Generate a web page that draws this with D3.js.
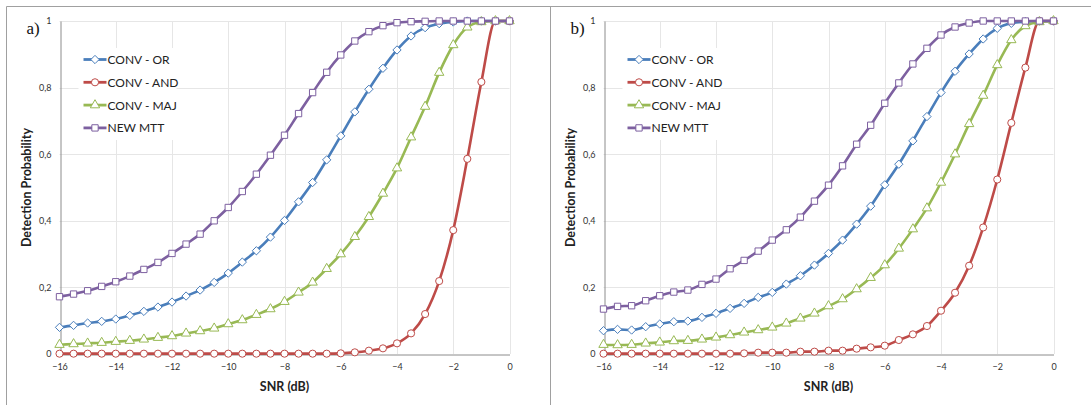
<!DOCTYPE html>
<html>
<head>
<meta charset="utf-8">
<script src="https://cdn.jsdelivr.net/npm/d3@7"></script>
<style>
  html, body { margin: 0; padding: 0; background: #fff; }
  svg { display: block; }
</style>
</head>
<body>
<svg id="chart" width="1091" height="405"></svg>
<script>
// ---------- data ----------
const snr = [-16,-15.5,-15,-14.5,-14,-13.5,-13,-12.5,-12,-11.5,-11,-10.5,-10,-9.5,-9,-8.5,-8,-7.5,-7,-6.5,-6,-5.5,-5,-4.5,-4,-3.5,-3,-2.5,-2,-1.5,-1,-0.5,0];
const xTicks = [-16,-14,-12,-10,-8,-6,-4,-2,0];
const yTicks = [0,0.2,0.4,0.6,0.8,1];
const yTickLabels = ["0","0,2","0,4","0,6","0,8","1"];
const seriesNames = ["CONV - OR","CONV - AND","CONV - MAJ","NEW MTT"];
const panelLabels = ["a)","b)"];

// panel a
const orA  = [0.080,0.086,0.093,0.098,0.105,0.116,0.128,0.141,0.156,0.174,0.192,0.215,0.243,0.276,0.310,0.351,0.401,0.457,0.515,0.583,0.655,0.727,0.795,0.858,0.913,0.955,0.980,0.992,0.997,1.0,1.0,1.0,1.0];
const andA = [0.001,0.001,0.001,0.001,0.001,0.001,0.001,0.001,0.001,0.001,0.001,0.001,0.001,0.001,0.001,0.001,0.001,0.001,0.001,0.001,0.002,0.005,0.010,0.017,0.032,0.062,0.120,0.219,0.372,0.586,0.817,1.0,1.0];
const majA = [0.028,0.030,0.032,0.034,0.037,0.040,0.044,0.049,0.054,0.062,0.069,0.077,0.090,0.102,0.118,0.135,0.157,0.185,0.215,0.256,0.300,0.352,0.412,0.482,0.558,0.651,0.743,0.845,0.928,0.981,0.997,1.0,1.0];
const mttA = [0.172,0.180,0.190,0.203,0.217,0.234,0.254,0.275,0.302,0.330,0.360,0.400,0.440,0.488,0.540,0.597,0.657,0.722,0.785,0.846,0.898,0.940,0.968,0.986,0.995,0.998,0.999,1.0,1.0,1.0,1.0,1.0,1.0];

// panel b
const orB  = [0.070,0.074,0.072,0.082,0.090,0.097,0.099,0.110,0.122,0.137,0.152,0.170,0.185,0.210,0.235,0.267,0.302,0.342,0.390,0.444,0.508,0.570,0.640,0.713,0.785,0.849,0.901,0.946,0.978,0.993,0.998,1.0,1.0];
const andB = [0.001,0.001,0.001,0.001,0.001,0.001,0.001,0.001,0.001,0.001,0.002,0.004,0.004,0.004,0.007,0.007,0.010,0.010,0.016,0.020,0.025,0.042,0.059,0.084,0.130,0.184,0.265,0.380,0.524,0.694,0.860,1.0,1.0];
const majB = [0.028,0.027,0.028,0.032,0.035,0.039,0.040,0.044,0.050,0.057,0.065,0.072,0.080,0.092,0.107,0.122,0.144,0.165,0.195,0.229,0.267,0.317,0.375,0.438,0.515,0.600,0.691,0.776,0.868,0.943,0.985,0.997,1.0];
const mttB = [0.135,0.143,0.145,0.160,0.175,0.186,0.192,0.209,0.225,0.256,0.281,0.309,0.342,0.373,0.411,0.459,0.507,0.565,0.630,0.687,0.753,0.814,0.871,0.918,0.958,0.982,0.994,1.0,1.0,1.0,1.0,1.0,1.0];

const colors = ["#4A7EBB","#BE4B48","#98B954","#7D60A0"];
const markers = [d3.symbolDiamond2, d3.symbolCircle, d3.symbolTriangle, d3.symbolSquare];
const markerSizes = [44, 40, 38, 40];

const svg = d3.select("#chart");

// outer frame lines
svg.append("line").attr("x1",6.5).attr("x2",1091).attr("y1",6.5).attr("y2",6.5).attr("stroke","#a0a0a0").attr("stroke-width",1);
svg.append("line").attr("x1",6.5).attr("x2",6.5).attr("y1",6.5).attr("y2",405).attr("stroke","#a0a0a0").attr("stroke-width",1);
svg.append("line").attr("x1",550.5).attr("x2",550.5).attr("y1",6.5).attr("y2",405).attr("stroke","#a0a0a0").attr("stroke-width",1);

const sans = "Lato, 'Open Sans', sans-serif";

function drawPanel(x0, label, series) {
  const x = d3.scaleLinear().domain([-16,0]).range([x0, x0+450]);
  const y = d3.scaleLinear().domain([0,1]).range([354,21]);
  const g = svg.append("g");

  // gridlines
  g.append("g").selectAll("line").data(yTicks.slice(1)).join("line")
    .attr("x1", x(-16)).attr("x2", x(0))
    .attr("y1", d => Math.round(y(d))+0.5).attr("y2", d => Math.round(y(d))+0.5)
    .attr("stroke","#e6e6e6").attr("stroke-width",1);
  g.append("g").selectAll("line").data(xTicks.slice(1)).join("line")
    .attr("x1", d => Math.round(x(d))+0.5).attr("x2", d => Math.round(x(d))+0.5)
    .attr("y1", y(0)).attr("y2", y(1))
    .attr("stroke","#e6e6e6").attr("stroke-width",1);

  // axes
  const xAxis = d3.axisBottom(x).tickValues(xTicks).tickSize(0).tickPadding(9).tickFormat(d3.format("d"));
  const xa = g.append("g").attr("transform",`translate(0,${Math.round(y(0))+0.5})`).call(xAxis);
  xa.select(".domain").attr("stroke","#8c8c8c");
  xa.selectAll("text").attr("font-family",sans).attr("font-size",9).attr("fill","#333");

  const yAxis = d3.axisLeft(y).tickValues(yTicks).tickSize(0).tickPadding(9).tickFormat((d,i) => yTickLabels[i]);
  const ya = g.append("g").attr("transform",`translate(${Math.round(x(-16))+0.5},0)`).call(yAxis);
  ya.select(".domain").attr("stroke","#8c8c8c");
  ya.selectAll("text").attr("font-family",sans).attr("font-size",9).attr("fill","#333");

  // titles
  g.append("text").attr("x", x(-8)).attr("y", 391).attr("text-anchor","middle")
    .attr("font-family",sans).attr("font-weight","bold").attr("font-size",12.5).attr("fill","#222")
    .text("SNR (dB)");
  g.append("text").attr("transform",`translate(${x0-29},${y(0.5)}) rotate(-90)`).attr("text-anchor","middle")
    .attr("font-family",sans).attr("font-weight","bold").attr("font-size",12.5).attr("fill","#222")
    .text("Detection Probability");
  g.append("text").attr("x", x0-33).attr("y", 34)
    .attr("font-family","'Liberation Serif', 'DejaVu Serif', serif").attr("font-size",17).attr("fill","#111")
    .text(label);

  // legend background
  g.append("rect").attr("x", x0+19).attr("y", 48).attr("width", 98).attr("height", 92).attr("fill","#fff");

  // series
  const line = d3.line().x((d,i) => x(snr[i])).y(d => y(d)).curve(d3.curveMonotoneX);
  series.forEach((vals, k) => {
    g.append("path").datum(vals).attr("d", line).attr("fill","none")
      .attr("stroke", colors[k]).attr("stroke-width", 2.6).attr("stroke-linejoin","round");
    g.append("g").selectAll("path").data(vals).join("path")
      .attr("transform", (d,i) => `translate(${x(snr[i])},${y(d)})`)
      .attr("d", d3.symbol().type(markers[k]).size(markerSizes[k]))
      .attr("fill","#fff").attr("stroke", colors[k]).attr("stroke-width",1);
  });

  // legend
  seriesNames.forEach((name, k) => {
    const ly = 59.5 + k*22.8;
    g.append("line").attr("x1", x0+24).attr("x2", x0+47).attr("y1", ly).attr("y2", ly)
      .attr("stroke", colors[k]).attr("stroke-width", 2.8);
    g.append("path").attr("transform",`translate(${x0+35.5},${ly})`)
      .attr("d", d3.symbol().type(markers[k]).size(markerSizes[k]))
      .attr("fill","#fff").attr("stroke", colors[k]).attr("stroke-width",1);
    g.append("text").attr("x", x0+48).attr("y", ly+4.5)
      .attr("font-family",sans).attr("font-size",12).attr("fill","#222")
      .text(name);
  });
}

drawPanel(59.5, panelLabels[0], [orA, andA, majA, mttA]);
drawPanel(603.5, panelLabels[1], [orB, andB, majB, mttB]);
</script>
</body>
</html>
